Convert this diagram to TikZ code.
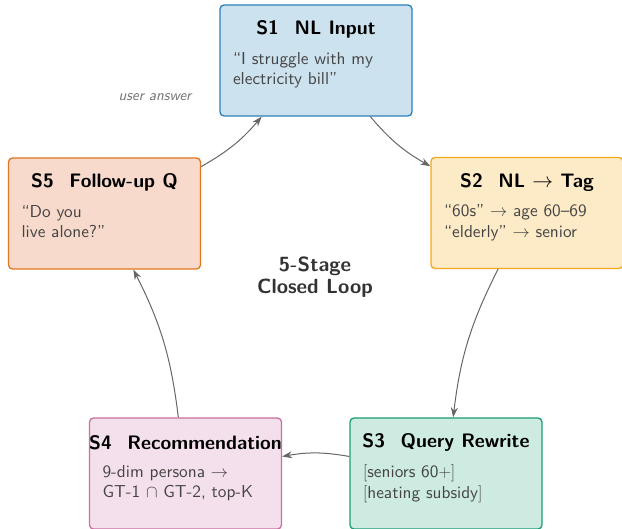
\documentclass[tikz,border=0pt]{standalone}
\usepackage{fontspec}
\setsansfont{lmsans10-regular.otf}[BoldFont=lmsans10-bold.otf,
  ItalicFont=lmsans10-oblique.otf, BoldItalicFont=lmsans10-boldoblique.otf]
\usetikzlibrary{arrows.meta}
\definecolor{sonefill}{HTML}{CDE2EF}
\definecolor{soneline}{HTML}{2C7FB8}
\definecolor{stwofill}{HTML}{FDEBC8}
\definecolor{stwoline}{HTML}{F0A81C}
\definecolor{sthreefill}{HTML}{CDEBE0}
\definecolor{sthreeline}{HTML}{1B9E77}
\definecolor{sfourfill}{HTML}{F4E0EC}
\definecolor{sfourline}{HTML}{CC6FA3}
\definecolor{sfivefill}{HTML}{F7DACB}
\definecolor{sfiveline}{HTML}{E0761F}
\definecolor{bodygray}{HTML}{444444}
\definecolor{arrowgray}{HTML}{666666}
\begin{document}
\begin{tikzpicture}[x=1pt, y=1pt,
    stagebox/.style={draw, rounded corners=4pt, line width=1.3pt,
      minimum width=192pt, minimum height=111pt, inner sep=0pt},
    stagetitle/.style={font=\sffamily\bfseries\fontsize{19.5}{22}\selectfont},
    stagebody/.style={font=\sffamily\fontsize{17.3}{20.5}\selectfont,
      text=bodygray, align=left, anchor=north west, inner sep=0pt},
    flow/.style={-{Stealth[length=10pt,width=7pt]}, draw=arrowgray, line width=1pt}]
      \useasboundingbox (0, 0) rectangle (622, 529);

      \node[stagebox, fill=sonefill, draw=soneline] (s1) at(316, 468.5){};
        \node[stagetitle] (s1title) at([yshift=-25.5]s1.north){S1\hspace{0.8em}NL Input};
        \node[stagebody] (s1body) at([xshift=13.5, yshift=-47.5]s1.north west){“I struggle with my\\electricity bill”};

      \node[stagebox, fill=stwofill, draw=stwoline] (s2) at(527, 316){};
        \node[stagetitle] (s2title) at([yshift=-25.5]s2.north){S2\hspace{0.8em}NL $\rightarrow$ Tag};
        \node[stagebody] (s2body) at([xshift=13.5, yshift=-47.5]s2.north west){“60s” $\rightarrow$ age 60–69\\“elderly” $\rightarrow$ senior};

      \node[stagebox, fill=sthreefill, draw=sthreeline] (s3) at(446, 55.5){};
        \node[stagetitle] (s3title) at([yshift=-25.5]s3.north){S3\hspace{0.8em}Query Rewrite};
        \node[stagebody] (s3body) at([xshift=13.5, yshift=-47.5]s3.north west){$[$seniors 60$+]$\\$[$heating subsidy$]$};

      \node[stagebox, fill=sfourfill, draw=sfourline] (s4) at(185.5, 55.5){};
        \node[stagetitle] (s4title) at([yshift=-25.5]s4.north){S4\hspace{0.8em}Recommendation};
        \node[stagebody] (s4body) at([xshift=13.5, yshift=-47.5]s4.north west){9-dim persona $\rightarrow$\\GT-1 $\cap$ GT-2, top-K};

      \node[stagebox, fill=sfivefill, draw=sfiveline] (s5) at(104.5, 315.5){};
        \node[stagetitle] (s5title) at([yshift=-25.5]s5.north){S5\hspace{0.8em}Follow-up Q};
        \node[stagebody] (s5body) at([xshift=13.5, yshift=-47.5]s5.north west){“Do you\\live alone?”};

      \node[font=\sffamily\bfseries\fontsize{20.5}{22}\selectfont, text=black!80, align=center] (loop) at(315, 252){5-Stage\\Closed Loop};
      \node[font=\sffamily\itshape\fontsize{15}{17}\selectfont, text=black!55] (answer) at(155, 432){user answer};

      \draw[flow] (s1) to[bend right=10] (s2);
      \draw[flow] (s2) to[bend right=10] (s3);
      \draw[flow] (s3) to[bend right=10] (s4);
      \draw[flow] (s4) to[bend right=10] (s5);
      \draw[flow] (s5) to[bend right=10] (s1);

    \end{tikzpicture}
\end{document}
